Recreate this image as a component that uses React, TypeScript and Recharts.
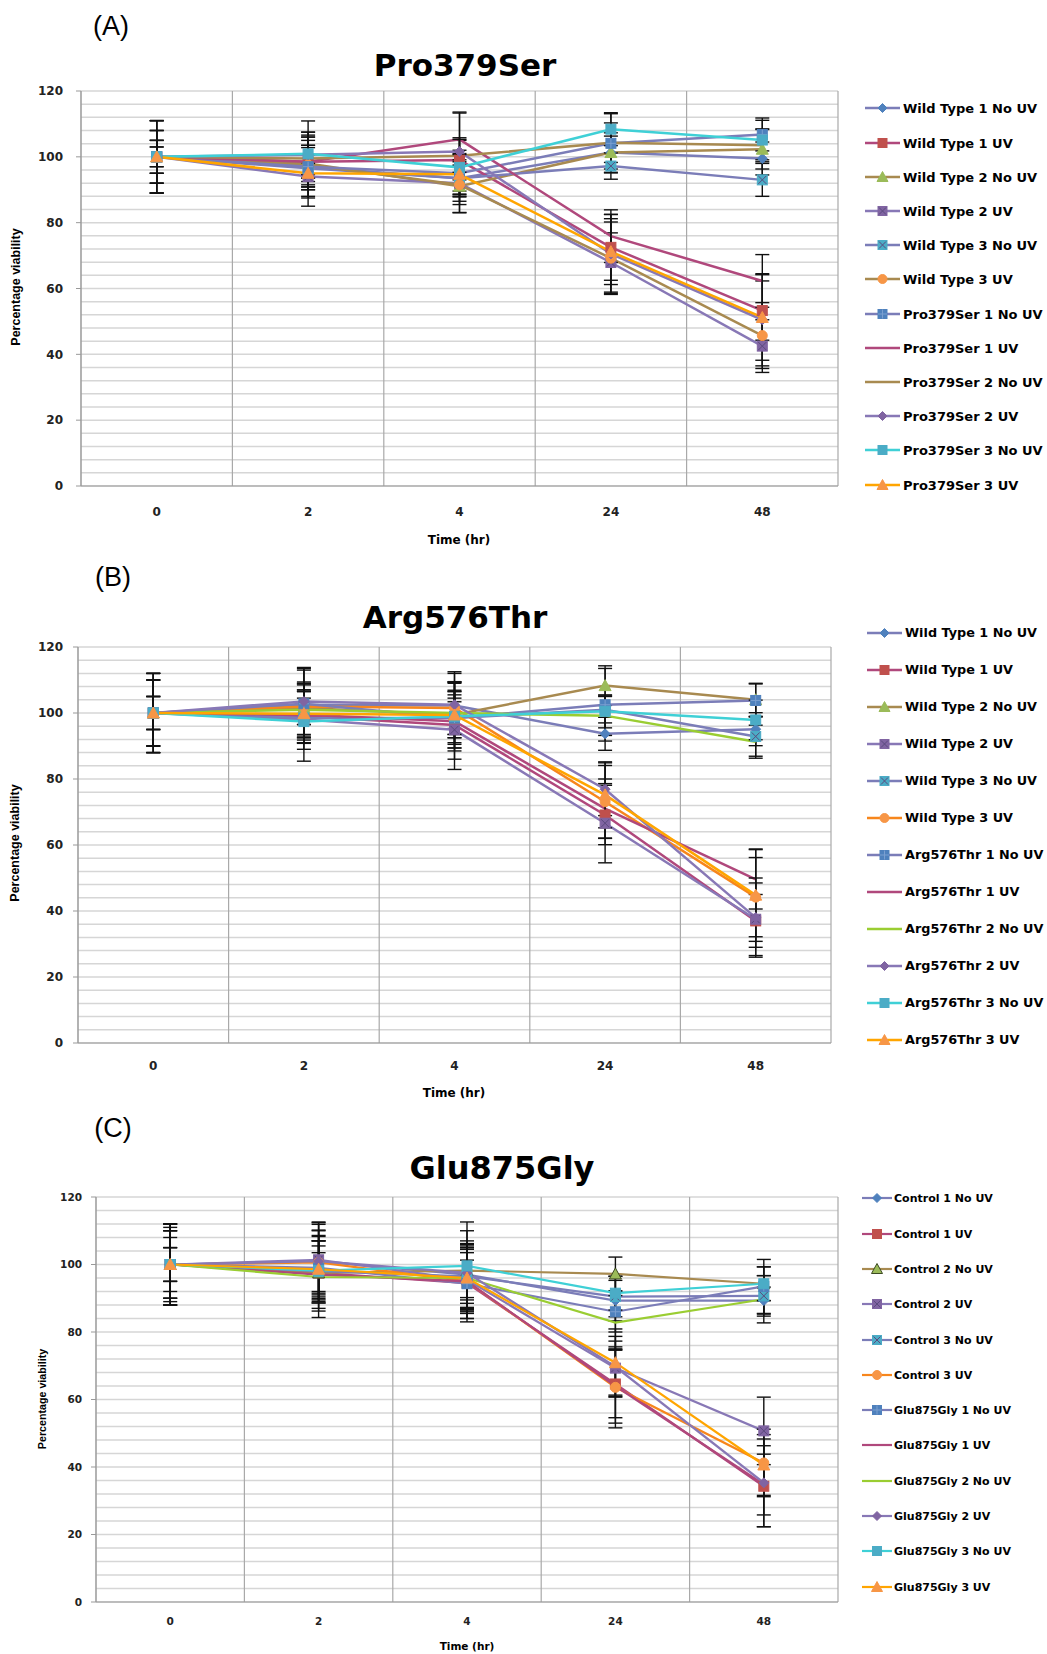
import React from 'react';
import { LineChart, Line, XAxis, YAxis, CartesianGrid, ErrorBar } from 'recharts';

const TIMES = ['0', '2', '4', '24', '48'];
const X_SLOTS = [0, 1, 2, 3, 4];
const X_BOUNDS = [-0.5, 0.5, 1.5, 2.5, 3.5, 4.5];
const Y_TICKS = [0, 20, 40, 60, 80, 100, 120];
const GRID_Y = Array.from({ length: 31 }, (_, i) => i * 4);

// ---- panel A: Pro379Ser
const A_NAMES = [
  'Wild Type 1 No UV', 'Wild Type 1 UV', 'Wild Type 2 No UV', 'Wild Type 2 UV',
  'Wild Type 3 No UV', 'Wild Type 3 UV', 'Pro379Ser 1 No UV', 'Pro379Ser 1 UV',
  'Pro379Ser 2 No UV', 'Pro379Ser 2 UV', 'Pro379Ser 3 No UV', 'Pro379Ser 3 UV',
];
const A_VALUES = [
  [100, 96.8, 93.5, 101.3, 99.5],
  [100, 98.5, 99, 72.5, 53.3],
  [100, 98, 91.1, 101.3, 102.3],
  [100, 94, 92, 67.9, 42.5],
  [100, 96.5, 93.5, 97.2, 93],
  [100, 97.5, 91.5, 69.2, 45.7],
  [100, 97, 95, 104.1, 106.8],
  [100, 98.5, 105.3, 75.9, 62.3],
  [100, 99.5, 100.3, 104.3, 103.5],
  [100, 100.6, 101.6, 70.5, 50.5],
  [100, 100.9, 96.8, 108.4, 105.1],
  [100, 95, 94.7, 71.2, 51.2],
];
const A_ERRORS = [
  [11, 6, 7, 5, 5],
  [8, 5, 6, 10, 9],
  [5, 8, 8, 6, 6],
  [3, 4, 9, 9, 8],
  [11, 4, 5, 4, 5],
  [8, 10, 6, 11, 10],
  [5, 9, 7, 9, 5],
  [11, 5, 8, 8, 8],
  [3, 8, 5, 6, 5],
  [5, 6, 12, 12, 14],
  [11, 10, 9, 5, 6],
  [8, 10, 6, 10, 13],
];

// ---- panel B: Arg576Thr
const B_NAMES = [
  'Wild Type 1 No UV', 'Wild Type 1 UV', 'Wild Type 2 No UV', 'Wild Type 2 UV',
  'Wild Type 3 No UV', 'Wild Type 3 UV', 'Arg576Thr 1 No UV', 'Arg576Thr 1 UV',
  'Arg576Thr 2 No UV', 'Arg576Thr 2 UV', 'Arg576Thr 3 No UV', 'Arg576Thr 3 UV',
];
const B_VALUES = [
  [100, 102.5, 102.3, 93.7, 95.1],
  [100, 99, 96.4, 69.1, 37],
  [100, 101.5, 99.5, 108.3, 104],
  [100, 98, 94.9, 66.6, 37.5],
  [100, 98.5, 98.5, 101, 92.9],
  [100, 102, 101.5, 73.1, 44.2],
  [100, 102.8, 98.5, 102.5, 103.8],
  [100, 99.5, 97.5, 71, 49.6],
  [100, 101, 100, 99.2, 91.3],
  [100, 103.5, 102.5, 76.9, 38],
  [100, 97.4, 99, 100.5, 97.9],
  [100, 99.8, 99.4, 75.2, 44.8],
];
const B_ERRORS = [
  [12, 6, 7, 5, 5],
  [5, 8, 7, 9, 8],
  [10, 5, 6, 6, 5],
  [12, 9, 12, 12, 11],
  [5, 6, 8, 4, 6],
  [10, 11, 8, 11, 12],
  [12, 11, 6, 11, 5],
  [10, 7, 9, 9, 9],
  [5, 8, 9, 6, 5],
  [12, 10, 10, 8, 12],
  [10, 12, 13, 5, 6],
  [5, 9, 10, 10, 14],
];

// ---- panel C: Glu875Gly
const C_NAMES = [
  'Control 1 No UV', 'Control 1 UV', 'Control 2 No UV', 'Control 2 UV',
  'Control 3 No UV', 'Control 3 UV', 'Glu875Gly 1 No UV', 'Glu875Gly 1 UV',
  'Glu875Gly 2 No UV', 'Glu875Gly 2 UV', 'Glu875Gly 3 No UV', 'Glu875Gly 3 UV',
];
const C_VALUES = [
  [100, 100.9, 97, 89.3, 89.3],
  [100, 97.5, 94.5, 64.6, 34.3],
  [100, 97.5, 98.2, 97.2, 94.3],
  [100, 101.4, 95.5, 69.3, 50.7],
  [100, 98, 96.5, 90.5, 90.7],
  [100, 100.6, 95, 63.6, 41.2],
  [100, 99, 94.3, 86, 93.5],
  [100, 97, 95, 64, 34.8],
  [100, 96.3, 96, 82.8, 89.7],
  [100, 101, 97.5, 69.7, 35.3],
  [100, 98.2, 99.6, 91.5, 94.3],
  [100, 98.6, 96, 70.9, 40.6],
];
const C_ERRORS = [
  [12, 11, 13, 6, 4],
  [5, 6, 9, 10, 12],
  [12, 8, 8, 5, 5],
  [10, 11, 9, 8, 10],
  [5, 9, 8, 6, 6],
  [12, 12, 11, 12, 10],
  [11, 8, 7, 6, 8],
  [10, 10, 12, 11, 9],
  [5, 12, 10, 8, 7],
  [12, 9, 8, 9, 13],
  [10, 12, 13, 5, 5],
  [8, 10, 9, 10, 9],
];

type Style = { stroke: string; marker: string; fill?: string; edge?: string };

const PB = '#7b7db8';
const MG = '#b0487c';
const TAN = '#a88a50';
const LAV = '#8878b6';
const CYAN = '#3fd0d6';
const ORG = '#ffa500';
const ORG2 = '#f7861c';
const YG = '#9acd32';

const A_STYLE: Style[] = [
  { stroke: PB, marker: 'diamond', fill: '#4f81bd' },
  { stroke: MG, marker: 'square', fill: '#c0504d' },
  { stroke: TAN, marker: 'triangle', fill: '#9bbb59' },
  { stroke: LAV, marker: 'xsquare', fill: '#8064a2' },
  { stroke: PB, marker: 'xsquare', fill: '#4bacc6' },
  { stroke: TAN, marker: 'circle', fill: '#f79646' },
  { stroke: PB, marker: 'plussquare', fill: '#4f81bd' },
  { stroke: MG, marker: 'none' },
  { stroke: TAN, marker: 'none' },
  { stroke: LAV, marker: 'diamond', fill: '#8064a2' },
  { stroke: CYAN, marker: 'square', fill: '#4bacc6' },
  { stroke: ORG, marker: 'triangle', fill: '#f79646' },
];
const B_STYLE: Style[] = [
  { stroke: PB, marker: 'diamond', fill: '#4f81bd' },
  { stroke: MG, marker: 'square', fill: '#c0504d' },
  { stroke: TAN, marker: 'triangle', fill: '#9bbb59' },
  { stroke: LAV, marker: 'xsquare', fill: '#8064a2' },
  { stroke: PB, marker: 'xsquare', fill: '#4bacc6' },
  { stroke: ORG2, marker: 'circle', fill: '#f79646' },
  { stroke: PB, marker: 'plussquare', fill: '#4f81bd' },
  { stroke: MG, marker: 'none' },
  { stroke: YG, marker: 'none' },
  { stroke: LAV, marker: 'diamond', fill: '#8064a2' },
  { stroke: CYAN, marker: 'square', fill: '#4bacc6' },
  { stroke: ORG, marker: 'triangle', fill: '#f79646' },
];
const C_STYLE: Style[] = [
  { stroke: PB, marker: 'diamond', fill: '#4f81bd' },
  { stroke: MG, marker: 'square', fill: '#c0504d' },
  { stroke: TAN, marker: 'triangle', fill: '#9bbb59', edge: '#3c4a22' },
  { stroke: LAV, marker: 'xsquare', fill: '#8064a2' },
  { stroke: PB, marker: 'xsquare', fill: '#4bacc6' },
  { stroke: ORG2, marker: 'circle', fill: '#f79646' },
  { stroke: PB, marker: 'plussquare', fill: '#4f81bd' },
  { stroke: MG, marker: 'none' },
  { stroke: YG, marker: 'none' },
  { stroke: LAV, marker: 'diamond', fill: '#8064a2' },
  { stroke: CYAN, marker: 'square', fill: '#4bacc6' },
  { stroke: ORG, marker: 'triangle', fill: '#f79646' },
];

const W = 1047;
const FONT = '"DejaVu Sans", Verdana, sans-serif';

const Marker = ({ cx, cy, st, size = 10 }: { cx?: number; cy?: number; st: Style; size?: number }) => {
  if (st.marker === 'none' || cx == null || cy == null) return null;
  const h = size / 2;
  const edge = st.edge ?? st.fill;
  switch (st.marker) {
    case 'diamond':
      return <polygon points={`${cx},${cy - h} ${cx + h},${cy} ${cx},${cy + h} ${cx - h},${cy}`} fill={st.fill} stroke={edge} />;
    case 'square':
      return <rect x={cx - h} y={cy - h} width={size} height={size} fill={st.fill} stroke={edge} />;
    case 'triangle':
      return <polygon points={`${cx},${cy - h - 1} ${cx + h + 1},${cy + h} ${cx - h - 1},${cy + h}`} fill={st.fill} stroke={edge} />;
    case 'circle':
      return <circle cx={cx} cy={cy} r={h} fill={st.fill} stroke={edge} />;
    case 'xsquare':
      return (
        <g>
          <rect x={cx - h} y={cy - h} width={size} height={size} fill={st.fill} stroke={edge} />
          <path d={`M${cx - h + 1},${cy - h + 1}L${cx + h - 1},${cy + h - 1}M${cx + h - 1},${cy - h + 1}L${cx - h + 1},${cy + h - 1}`} stroke="#5b4a7e" strokeWidth={1} />
        </g>
      );
    case 'plussquare':
      return (
        <g>
          <rect x={cx - h} y={cy - h} width={size} height={size} fill={st.fill} stroke={edge} />
          <path d={`M${cx},${cy - h}L${cx},${cy + h}M${cx - h},${cy}L${cx + h},${cy}`} stroke="#7b9fd0" strokeWidth={1} />
        </g>
      );
    default:
      return null;
  }
};

const Txt = ({ x, y, size, weight = 700, family = FONT, rotate = 0, children }: any) => (
  <div
    style={{
      position: 'absolute', left: x, top: y, whiteSpace: 'nowrap', lineHeight: 1,
      transform: `translate(-50%, -50%) rotate(${rotate}deg)`,
      fontFamily: family, fontSize: size, fontWeight: weight, color: '#000',
    }}
  >
    {children}
  </div>
);

type Cfg = {
  tag: string; title: string; top: number; height: number;
  plot: { l: number; t: number; r: number; b: number };
  fs: number; xTickMargin: number; yTickMargin: number; lw: number;
  tagXY: [number, number]; titleXY: [number, number]; titleFs: number;
  timeXY: [number, number]; yLabXY: [number, number]; yLabFs: number;
  leg: { x0: number; x1: number; tx: number; y0: number; dy: number; fs: number };
};

const Panel = ({ cfg, names, values, errors, styles }: { cfg: Cfg; names: string[]; values: number[][]; errors: number[][]; styles: Style[] }) => {
  const data = X_SLOTS.map((x, i) => {
    const row: Record<string, number> = { x };
    values.forEach((v, s) => {
      row[`s${s}`] = v[i];
      row[`e${s}`] = errors[s][i];
    });
    return row;
  });
  const YW = 50;
  const XH = 30;
  const margin = {
    top: cfg.plot.t - cfg.top,
    left: cfg.plot.l - YW,
    right: W - cfg.plot.r,
    bottom: cfg.top + cfg.height - cfg.plot.b - XH,
  };
  const tickStyle = { fontFamily: FONT, fontWeight: 700, fontSize: cfg.fs, fill: '#222' };
  const lw = cfg.leg.x1 - cfg.leg.x0;
  return (
    <>
      <div style={{ position: 'absolute', left: 0, top: cfg.top }}>
        <LineChart width={W} height={cfg.height} data={data} margin={margin}>
          <CartesianGrid vertical={false} horizontalValues={GRID_Y} stroke="#d6d6d6" strokeWidth={1.5} />
          <CartesianGrid horizontal={false} verticalValues={X_BOUNDS} stroke="#a9a9a9" strokeWidth={1.2} />
          <XAxis
            type="number" dataKey="x" domain={[-0.5, 4.5]} ticks={X_SLOTS} interval={0}
            tickFormatter={(v: number) => TIMES[v]} height={XH} tickLine={false} tickSize={0}
            tickMargin={cfg.xTickMargin} axisLine={{ stroke: '#999' }} tick={tickStyle} allowDataOverflow
          />
          <YAxis
            type="number" domain={[0, 120]} ticks={Y_TICKS} interval={0} width={YW} tickSize={5}
            tickMargin={cfg.yTickMargin} tickLine={{ stroke: '#999' }} axisLine={{ stroke: '#999' }} tick={tickStyle}
          />
          {styles.map((st, s) => (
            <Line
              key={s} type="linear" dataKey={`s${s}`} stroke={st.stroke} strokeWidth={cfg.lw}
              isAnimationActive={false} activeDot={false}
              dot={(p: any) => <Marker key={`m${s}-${p.index}`} cx={p.cx} cy={p.cy} st={st} />}
            >
              <ErrorBar dataKey={`e${s}`} direction="y" width={7} stroke="#111" strokeWidth={1.4} isAnimationActive={false} />
            </Line>
          ))}
        </LineChart>
      </div>
      <Txt x={cfg.tagXY[0]} y={cfg.tagXY[1]} size={27} weight={400} family='"Liberation Sans", Arial, sans-serif'>{cfg.tag}</Txt>
      <Txt x={cfg.titleXY[0]} y={cfg.titleXY[1]} size={cfg.titleFs}>{cfg.title}</Txt>
      <Txt x={cfg.timeXY[0]} y={cfg.timeXY[1]} size={cfg.fs}>Time (hr)</Txt>
      <Txt x={cfg.yLabXY[0]} y={cfg.yLabXY[1]} size={cfg.yLabFs} rotate={-90} family='"Liberation Sans Narrow", "Liberation Sans", Arial, sans-serif'>
        Percentage viability
      </Txt>
      {names.map((n, s) => {
        const y = cfg.leg.y0 + s * cfg.leg.dy;
        return (
          <React.Fragment key={n}>
            <svg style={{ position: 'absolute', left: cfg.leg.x0, top: y - 7 }} width={lw} height={14}>
              <line x1={0} x2={lw} y1={7} y2={7} stroke={styles[s].stroke} strokeWidth={cfg.lw} />
              <Marker cx={lw / 2} cy={7} st={styles[s]} size={9} />
            </svg>
            <div
              style={{
                position: 'absolute', left: cfg.leg.tx, top: y, transform: 'translateY(-50%)',
                fontFamily: FONT, fontWeight: 700, fontSize: cfg.leg.fs, whiteSpace: 'nowrap', lineHeight: 1,
              }}
            >
              {n}
            </div>
          </React.Fragment>
        );
      })}
    </>
  );
};

const CFG_A: Cfg = {
  tag: '(A)', title: 'Pro379Ser', top: 0, height: 560,
  plot: { l: 81, t: 91, r: 838, b: 486 },
  fs: 12, xTickMargin: 21, yTickMargin: 13, lw: 2.5,
  tagXY: [111, 26], titleXY: [465, 65], titleFs: 31,
  timeXY: [459, 540], yLabXY: [16, 287], yLabFs: 12.5,
  leg: { x0: 865, x1: 900, tx: 903, y0: 108.3, dy: 34.2, fs: 13 },
};
const CFG_B: Cfg = {
  tag: '(B)', title: 'Arg576Thr', top: 560, height: 540,
  plot: { l: 78, t: 647, r: 831, b: 1043 },
  fs: 12, xTickMargin: 18, yTickMargin: 10, lw: 2.5,
  tagXY: [113, 577], titleXY: [455, 617], titleFs: 31,
  timeXY: [454, 1093], yLabXY: [15, 843], yLabFs: 12.5,
  leg: { x0: 867, x1: 902, tx: 905, y0: 633.3, dy: 37, fs: 12.8 },
};
const CFG_C: Cfg = {
  tag: '(C)', title: 'Glu875Gly', top: 1100, height: 554,
  plot: { l: 96, t: 1197, r: 838, b: 1602 },
  fs: 10.5, xTickMargin: 16, yTickMargin: 9, lw: 2.2,
  tagXY: [113, 1128], titleXY: [502, 1168], titleFs: 32,
  timeXY: [467, 1646], yLabXY: [42, 1399], yLabFs: 10.7,
  leg: { x0: 862, x1: 892, tx: 894, y0: 1198.3, dy: 35.3, fs: 11 },
};

export default function App() {
  return (
    <div style={{ position: 'absolute', left: 0, top: 0, width: W, height: 1654, background: '#fff', overflow: 'hidden' }}>
      <Panel cfg={CFG_A} names={A_NAMES} values={A_VALUES} errors={A_ERRORS} styles={A_STYLE} />
      <Panel cfg={CFG_B} names={B_NAMES} values={B_VALUES} errors={B_ERRORS} styles={B_STYLE} />
      <Panel cfg={CFG_C} names={C_NAMES} values={C_VALUES} errors={C_ERRORS} styles={C_STYLE} />
    </div>
  );
}
